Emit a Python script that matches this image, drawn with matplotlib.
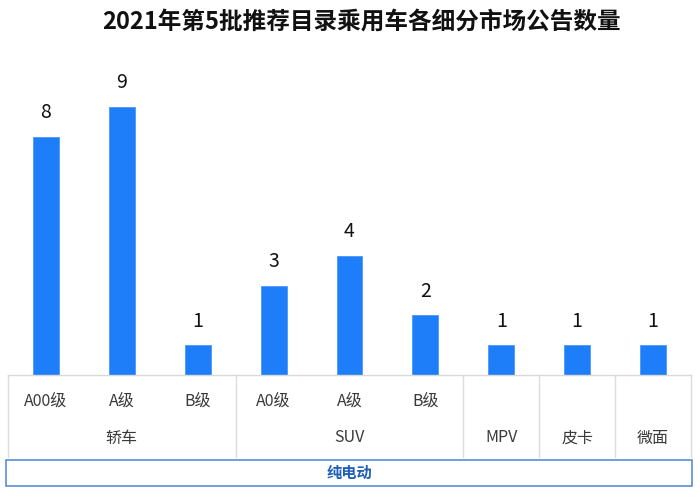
import matplotlib.pyplot as plt
import matplotlib.transforms as mtransforms
from matplotlib.patches import Rectangle

plt.rcParams['font.family'] = ['Noto Sans CJK SC', 'DejaVu Sans']

title = '2021年第5批推荐目录乘用车各细分市场公告数量'
sub_labels = ['A00级', 'A级', 'B级', 'A0级', 'A级', 'B级', '', '', '']
values = [8, 9, 1, 3, 4, 2, 1, 1, 1]
groups = ['轿车', 'SUV', 'MPV', '皮卡', '微面']
group_spans = [(0, 2), (3, 5), (6, 6), (7, 7), (8, 8)]
power_label = '纯电动'

W, H = 700, 501
fig = plt.figure(figsize=(W / 100, H / 100), dpi=100)


def fy(py):
    # pixel row from top -> figure fraction
    return 1 - py / H


ax_left, ax_right = 8, 691
base_py, top_py = 375, 62
ax = fig.add_axes([ax_left / W, fy(base_py), (ax_right - ax_left) / W, (base_py - top_py) / H])

x = list(range(len(values)))
ax.bar(x, values, width=0.34, color='#1E7EFA', edgecolor='#4C97FB', linewidth=0.6, zorder=2)
for xi, v in zip(x, values):
    ax.text(xi, v + 0.45, str(v), ha='center', va='bottom', fontsize=14, color='#111111')

ax.set_xlim(-0.5, len(values) - 0.5)
ax.set_ylim(0, 10.5)
ax.set_xticks([])
ax.set_yticks([])
for s in ['top', 'left', 'right']:
    ax.spines[s].set_visible(False)
ax.spines['bottom'].set_color('#d9d9d9')
ax.spines['bottom'].set_linewidth(1)

trans = mtransforms.blended_transform_factory(ax.transData, fig.transFigure)

# category table below the axis
for xi, lab in zip(x, sub_labels):
    if lab:
        fig.text(xi, fy(401), lab, transform=trans, ha='center', va='center',
                 fontsize=11.5, color='#3a3a3a')

for g, (a, b) in zip(groups, group_spans):
    fig.text((a + b) / 2, fy(438), g, transform=trans, ha='center', va='center',
             fontsize=11.5, color='#3a3a3a')

for sep in [-0.5, 2.5, 5.5, 6.5, 7.5, 8.5]:
    fig.add_artist(plt.Line2D([sep, sep], [fy(base_py), fy(457)], transform=trans,
                              color='#dcdcdc', linewidth=1))

fig.add_artist(Rectangle((6 / W, fy(486)), (692 - 6) / W, 26 / H, transform=fig.transFigure,
                         facecolor='white', edgecolor='#5B8ED6', linewidth=1.2))
fig.text(349 / W, fy(473), power_label, ha='center', va='center', fontsize=11,
         fontweight='bold', color='#1F5FB8')

fig.text(0.517, fy(22), title, ha='center', va='center', fontsize=17, fontweight='bold',
         color='#111111')

fig.savefig('out.png', dpi=100, facecolor='white')
